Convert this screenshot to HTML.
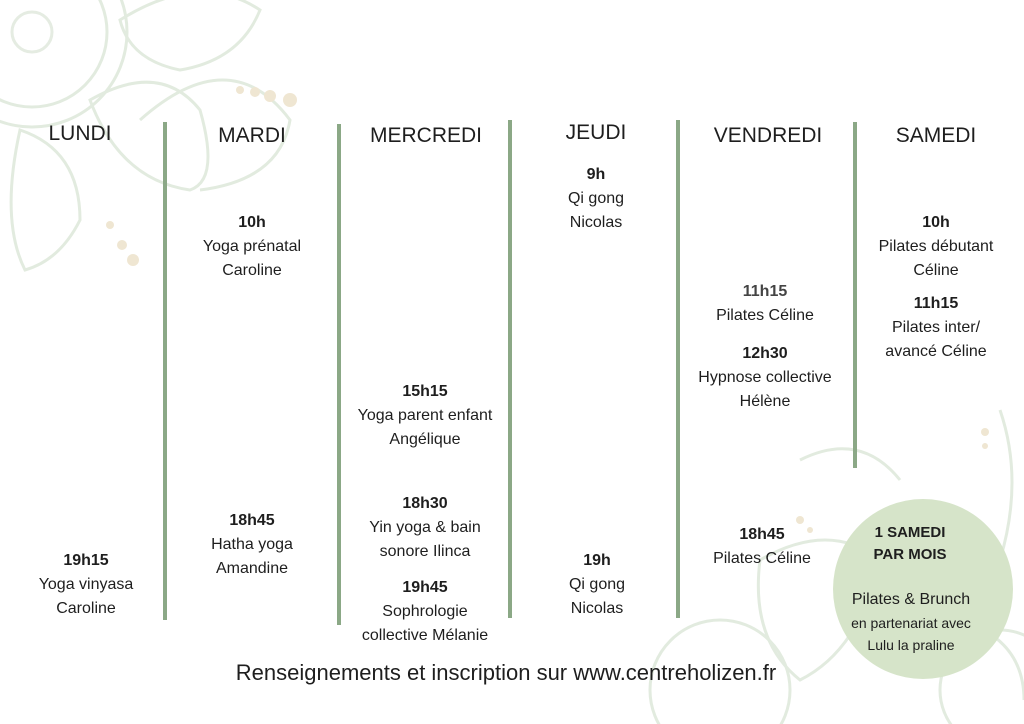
<!DOCTYPE html>
<html><head><meta charset="utf-8"><style>
body{margin:0;width:1024px;height:724px;background:#fff;position:relative;overflow:hidden;font-family:"Liberation Sans",sans-serif;color:#1e1e1e}
.t{position:absolute;text-align:center;font-size:16px;line-height:24px;width:200px;margin-left:-100px}
.h{position:absolute;font-size:21px;width:200px;margin-left:-100px;text-align:center}
b{font-weight:bold}
.v{position:absolute;width:4px;background:#8ba886}
</style></head><body>
<svg width="1024" height="724" style="position:absolute;left:0;top:0" fill="none" stroke="#e2ebdf" stroke-width="3">
<circle cx="32" cy="32" r="75"/><circle cx="32" cy="32" r="95"/><circle cx="32" cy="32" r="20" stroke="#e5ece2"/>
<path d="M120 20 Q200 -30 260 10 Q240 60 180 70 Q130 60 120 20Z"/>
<path d="M90 100 Q160 60 200 110 Q220 180 190 190 Q120 180 90 100Z"/>
<path d="M20 130 Q80 150 80 220 Q60 260 25 270 Q0 220 20 130Z"/>
<path d="M140 120 Q230 40 290 120 Q280 180 200 190"/>
<path d="M1000 410 Q1024 480 1000 560 Q960 600 900 590"/>
<path d="M800 460 Q860 430 900 480"/>
<path d="M760 560 Q830 520 880 560 Q860 650 800 680 Q750 640 760 560Z"/>
<path d="M960 620 Q1024 640 1024 700"/>
<circle cx="1000" cy="690" r="60"/><circle cx="720" cy="690" r="70"/>
<g fill="#efe6d2" stroke="none"><circle cx="110" cy="225" r="4"/><circle cx="122" cy="245" r="5"/><circle cx="133" cy="260" r="6"/><circle cx="240" cy="90" r="4"/><circle cx="255" cy="92" r="5"/><circle cx="270" cy="96" r="6"/><circle cx="985" cy="432" r="4"/><circle cx="985" cy="446" r="3"/><circle cx="290" cy="100" r="7"/><circle cx="800" cy="520" r="4"/><circle cx="810" cy="530" r="3"/></g>
</svg>
<div class="v" style="left:163px;top:122px;height:498px"></div>
<div class="v" style="left:337px;top:124px;height:501px"></div>
<div class="v" style="left:508px;top:120px;height:498px"></div>
<div class="v" style="left:676px;top:120px;height:498px"></div>
<div class="v" style="left:853px;top:122px;height:346px"></div>
<div style="position:absolute;left:833px;top:499px;width:180px;height:180px;border-radius:50%;background:#d6e4c9"></div>
<div class="h" style="left:80px;top:122px">LUNDI</div>
<div class="h" style="left:252px;top:124px">MARDI</div>
<div class="h" style="left:426px;top:124px">MERCREDI</div>
<div class="h" style="left:596px;top:121px">JEUDI</div>
<div class="h" style="left:768px;top:124px">VENDREDI</div>
<div class="h" style="left:936px;top:124px">SAMEDI</div>
<div class="t" style="left:252px;top:211px"><b>10h</b><br>Yoga prénatal<br>Caroline</div>
<div class="t" style="left:596px;top:163px"><b>9h</b><br>Qi gong<br>Nicolas</div>
<div class="t" style="left:936px;top:211px"><b>10h</b><br>Pilates débutant<br>Céline</div>
<div class="t" style="left:936px;top:292px"><b>11h15</b><br>Pilates inter/<br>avancé Céline</div>
<div class="t" style="left:765px;top:280px"><b style="color:#444">11h15</b><br>Pilates Céline</div>
<div class="t" style="left:765px;top:342px"><b>12h30</b><br>Hypnose collective<br>Hélène</div>
<div class="t" style="left:425px;top:380px"><b>15h15</b><br>Yoga parent enfant<br>Angélique</div>
<div class="t" style="left:425px;top:492px"><b>18h30</b><br>Yin yoga &amp; bain<br>sonore Ilinca</div>
<div class="t" style="left:425px;top:576px"><b>19h45</b><br>Sophrologie<br>collective Mélanie</div>
<div class="t" style="left:252px;top:509px"><b>18h45</b><br>Hatha yoga<br>Amandine</div>
<div class="t" style="left:86px;top:549px"><b>19h15</b><br>Yoga vinyasa<br>Caroline</div>
<div class="t" style="left:597px;top:549px"><b>19h</b><br>Qi gong<br>Nicolas</div>
<div class="t" style="left:762px;top:523px"><b>18h45</b><br>Pilates Céline</div>
<div class="t" style="left:910px;top:522px;font-size:15px;line-height:22px"><b>1 SAMEDI<br>PAR MOIS</b></div>
<div class="t" style="left:911px;top:588px;font-size:16px">Pilates &amp; Brunch</div>
<div class="t" style="left:911px;top:612px;font-size:14px;line-height:22px">en partenariat avec<br>Lulu la praline</div>
<div style="position:absolute;left:0;width:1012px;text-align:center;top:660px;font-size:22px">Renseignements et inscription sur www.centreholizen.fr</div>
</body></html>
